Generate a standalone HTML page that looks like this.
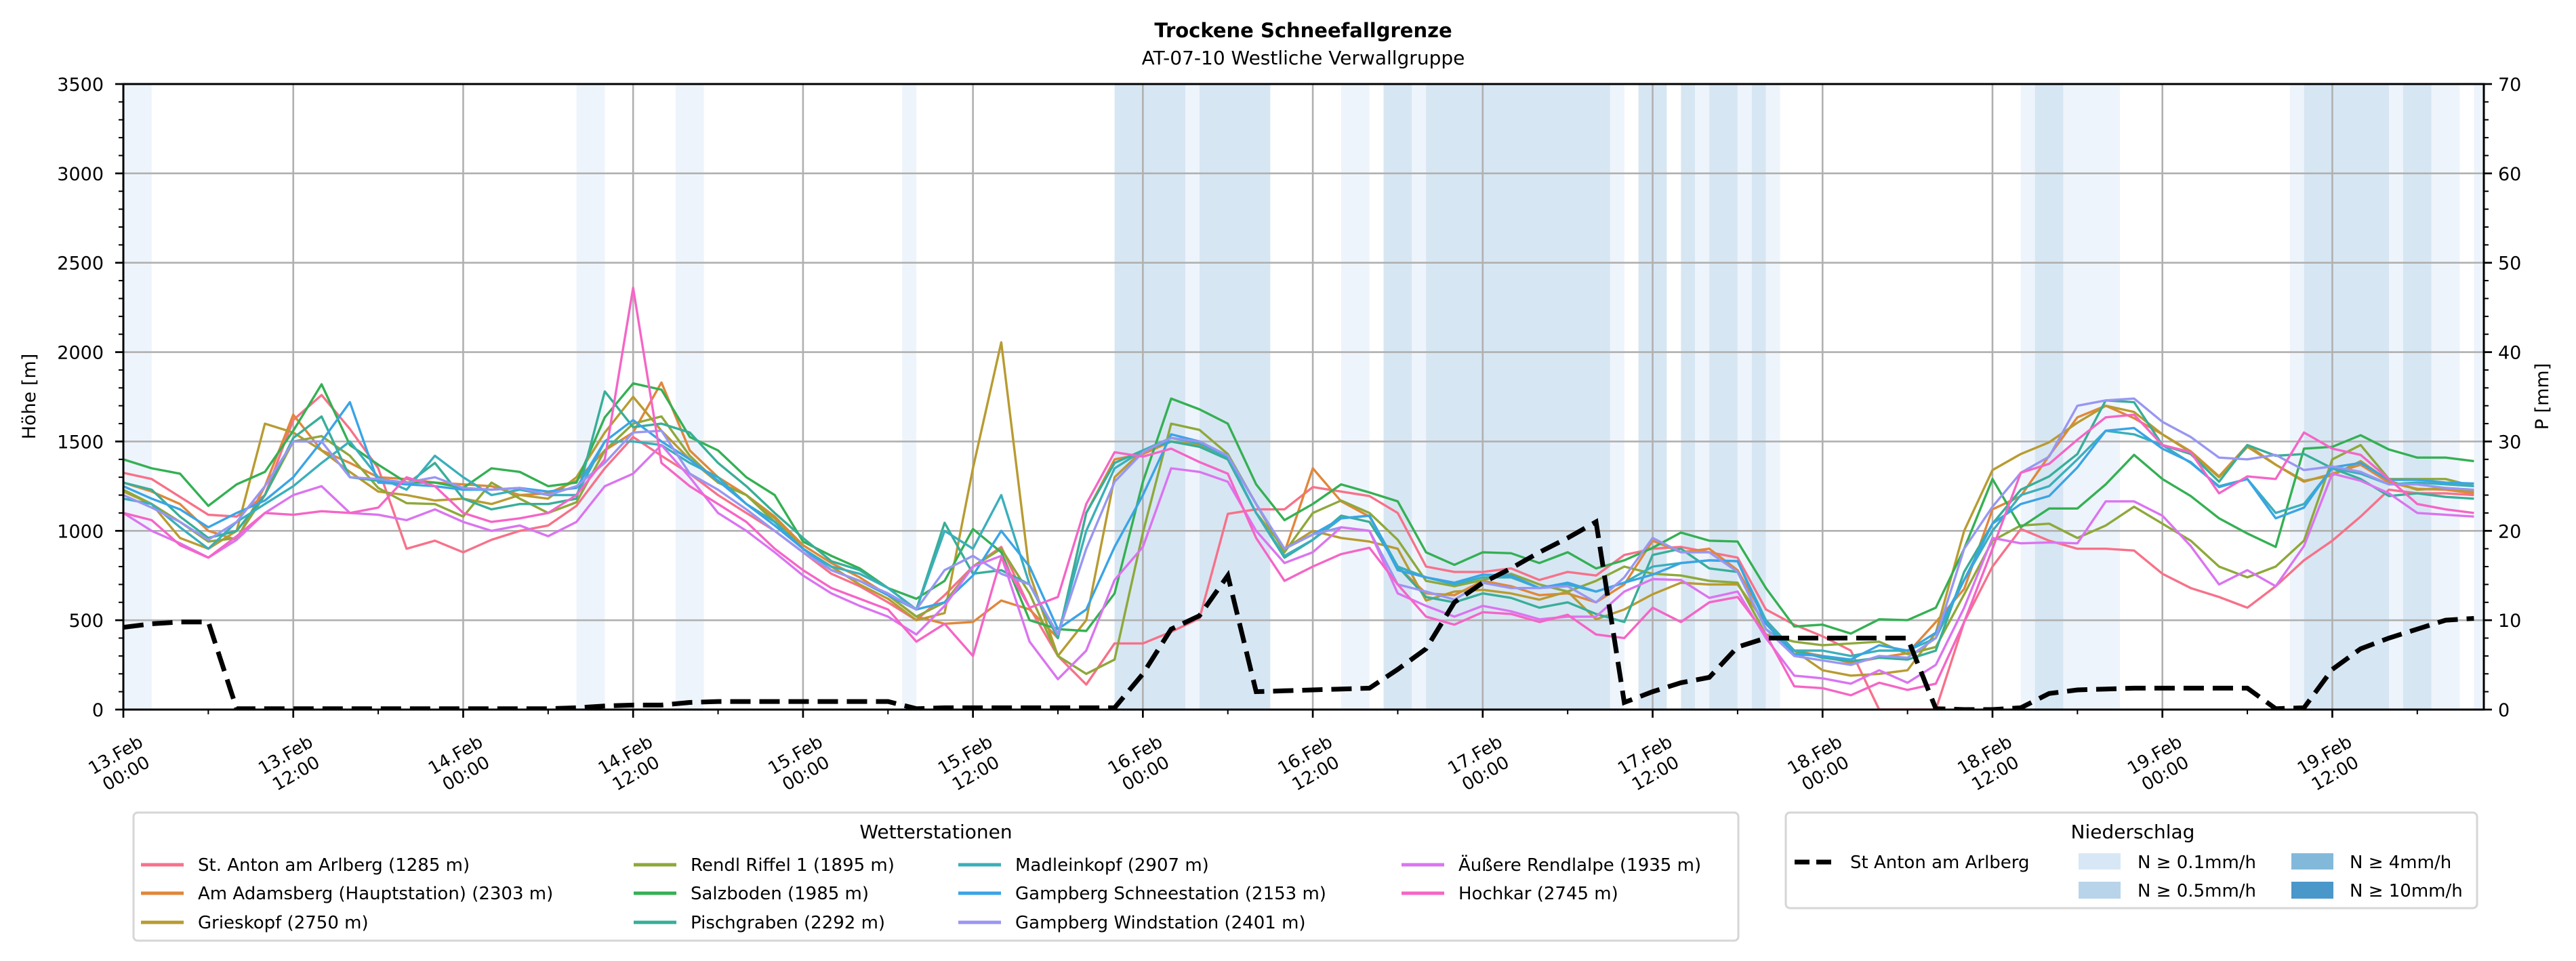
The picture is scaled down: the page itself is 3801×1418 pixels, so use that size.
<!DOCTYPE html>
<html><head><meta charset="utf-8"><style>
html,body{margin:0;padding:0;background:#fff;}
svg{display:block;font-family:"DejaVu Sans","Liberation Sans",sans-serif;}
</style></head><body>
<svg id="chart" width="3801" height="1418" viewBox="0 0 3801 1418" xmlns="http://www.w3.org/2000/svg">
<defs><clipPath id="plotclip"><rect x="182" y="124" width="3483" height="923"/></clipPath></defs>
<rect x="0" y="0" width="3801" height="1418" fill="#fff"/>
<text x="1923" y="55" text-anchor="middle" font-size="29" font-weight="bold">Trockene Schneefallgrenze</text>
<text x="1923" y="95" text-anchor="middle" font-size="28">AT-07-10 Westliche Verwallgruppe</text>
<g id="bands" clip-path="url(#plotclip)"></g>
<g id="grid"></g>
<g id="series" clip-path="url(#plotclip)"></g>
<g id="precip" clip-path="url(#plotclip)"></g>
<g id="axes"></g>
<text transform="translate(52,585) rotate(-90)" text-anchor="middle" font-size="27">Höhe [m]</text>
<text transform="translate(3760,585) rotate(-90)" text-anchor="middle" font-size="27">P [mm]</text>
<g id="legend1">
<rect x="197" y="1199" width="2368" height="189" rx="6" fill="#fff" stroke="#d6d6d6" stroke-width="3"/>
<text x="1381" y="1237" text-anchor="middle" font-size="28">Wetterstationen</text>
</g>
<g id="legend2">
<rect x="2635" y="1199" width="1020" height="141" rx="6" fill="#fff" stroke="#d6d6d6" stroke-width="3"/>
<text x="3147" y="1237" text-anchor="middle" font-size="28">Niederschlag</text>
<line x1="2648" y1="1272" x2="2705" y2="1272" stroke="#000" stroke-width="7" stroke-dasharray="22 10"/>
<text x="2730" y="1281" font-size="26">St Anton am Arlberg</text>
<rect x="3067" y="1259" width="62" height="24" fill="#d8e7f5"/>
<text x="3154" y="1281" font-size="26">N ≥ 0.1mm/h</text>
<rect x="3067" y="1301" width="62" height="25" fill="#b8d4ea"/>
<text x="3154" y="1323" font-size="26">N ≥ 0.5mm/h</text>
<rect x="3381" y="1259" width="62" height="24" fill="#82b9da"/>
<text x="3467" y="1281" font-size="26">N ≥ 4mm/h</text>
<rect x="3381" y="1301" width="62" height="25" fill="#4a97c9"/>
<text x="3467" y="1323" font-size="26">N ≥ 10mm/h</text>
</g>
</svg>
<script>
const hoursStep = 2;
const stationNames = ["St. Anton am Arlberg (1285 m)","Am Adamsberg (Hauptstation) (2303 m)","Grieskopf (2750 m)","Rendl Riffel 1 (1895 m)","Salzboden (1985 m)","Pischgraben (2292 m)","Madleinkopf (2907 m)","Gampberg Schneestation (2153 m)","Gampberg Windstation (2401 m)","Äußere Rendlalpe (1935 m)","Hochkar (2745 m)"];
const stAnton = [1325,1290,1190,1090,1080,1200,1620,1760,1570,1350,900,945,880,950,1000,1030,1140,1350,1525,1420,1320,1200,
1100,1000,880,760,690,600,500,640,800,910,570,300,140,370,370,435,510,1095,1120,1120,1245,
1220,1195,1100,800,770,770,790,725,770,750,865,900,910,880,850,560,475,410,330,0,0,
0,490,800,1010,945,900,900,890,760,680,630,570,690,835,945,1080,1230,1210,1210,1200];
const adamsberg = [1270,1220,1150,1000,950,1250,1650,1450,1380,1300,1290,1270,1260,1250,1200,1210,1280,1450,1550,1830,1450,1300,
1200,1080,920,820,740,640,520,480,490,610,560,400,1100,1400,1430,1500,1480,1420,1150,880,1350,
1165,1080,800,650,640,720,690,640,650,600,700,945,880,900,780,500,330,300,260,290,315,
490,675,1120,1195,1420,1635,1700,1630,1540,1445,1305,1480,1370,1275,1320,1370,1270,1235,1230,1210];
const grieskopf = [1220,1150,960,900,1000,1600,1550,1450,1330,1220,1200,1170,1180,1150,1200,1180,1300,1550,1750,1560,1400,1270,
1200,1070,900,800,700,620,500,540,1350,2055,760,300,500,1300,1450,1500,1480,1400,1100,900,1000,
960,940,900,610,660,670,650,615,660,505,560,645,710,700,700,480,330,220,190,200,220,
430,1000,1340,1430,1495,1605,1700,1665,1540,1440,1300,1470,1370,1280,1310,1390,1280,1230,1240,1220];
const rendl = [1230,1150,1050,940,960,1200,1500,1530,1420,1240,1155,1150,1080,1270,1180,1100,1160,1450,1600,1640,1420,1270,
1200,1050,900,780,720,640,520,600,800,900,650,300,200,280,990,1600,1565,1430,1150,880,1100,
1170,1100,950,720,690,725,760,700,660,720,800,760,750,720,710,420,380,360,370,380,310,
350,645,945,1030,1040,960,1030,1135,1040,945,800,740,800,945,1400,1480,1290,1290,1290,1250];
const salzboden = [1400,1350,1320,1140,1260,1330,1560,1820,1480,1370,1270,1270,1240,1350,1330,1250,1270,1635,1825,1790,1525,1450,
1300,1200,940,860,790,680,620,720,1010,880,500,450,440,650,1275,1740,1680,1600,1260,1060,1150,
1260,1215,1165,880,810,880,875,820,880,790,835,905,990,945,940,680,465,475,425,505,500,
570,900,1290,1020,1125,1125,1260,1425,1290,1195,1070,985,910,1460,1470,1535,1455,1410,1410,1390];
const pischgraben = [1270,1230,1080,960,1000,1200,1520,1640,1300,1280,1260,1380,1180,1120,1150,1150,1180,1780,1580,1600,1550,1380,
1250,1100,960,830,780,680,560,1045,760,780,700,400,1100,1380,1450,1500,1470,1400,1100,850,950,
1085,1050,800,630,600,650,625,570,600,535,490,865,900,790,770,450,330,290,270,290,280,
330,770,1040,1230,1305,1430,1730,1720,1480,1430,1275,1480,1420,1430,1350,1290,1195,1210,1190,1180];
const madleinkopf = [1180,1150,1020,900,1050,1150,1250,1380,1500,1300,1230,1420,1300,1200,1230,1200,1200,1500,1500,1480,1380,1300,
1150,1050,900,800,760,680,560,1000,900,1200,700,420,1000,1350,1450,1520,1490,1410,1100,860,950,
1070,1085,800,740,700,740,740,680,700,660,710,800,820,835,830,500,330,330,300,330,330,
400,725,1000,1200,1250,1400,1560,1540,1480,1380,1250,1290,1100,1150,1350,1320,1260,1270,1260,1250];
const gampSchnee = [1250,1180,1120,1020,1100,1170,1300,1500,1720,1270,1260,1250,1230,1230,1240,1220,1240,1500,1620,1500,1400,1280,
1150,1030,900,780,720,640,560,600,750,1000,800,450,560,910,1200,1540,1500,1420,1150,900,980,
1070,1085,780,740,710,755,750,680,710,660,710,755,820,835,830,480,310,300,280,360,330,
430,725,1040,1150,1195,1355,1560,1575,1460,1385,1245,1290,1070,1130,1355,1380,1285,1285,1270,1265];
const gampWind = [1200,1130,1050,950,1050,1250,1500,1500,1300,1290,1270,1300,1240,1230,1240,1200,1250,1380,1550,1560,1320,1230,
1120,1000,880,780,720,650,560,780,860,760,700,420,900,1275,1440,1520,1500,1420,1150,900,980,
1020,1000,700,660,615,710,680,680,690,600,740,960,880,880,770,450,300,275,250,300,290,
400,900,1135,1325,1415,1700,1730,1740,1610,1525,1410,1400,1425,1340,1360,1330,1260,1260,1240,1230];
const rendlalpe = [1100,1000,930,850,950,1100,1200,1250,1100,1090,1060,1120,1050,1000,1030,970,1050,1250,1320,1480,1300,1100,
1000,880,750,650,580,520,420,580,800,860,380,170,330,725,910,1350,1330,1275,1000,820,880,
1020,1000,650,580,520,580,550,505,520,520,660,730,725,625,660,400,190,175,145,220,150,
250,570,960,930,935,930,1165,1165,1085,915,700,780,690,915,1320,1280,1210,1100,1090,1080];
const hochkar = [1100,1060,920,850,970,1100,1090,1110,1100,1130,1300,1250,1100,1050,1070,1100,1200,1400,2360,1380,1250,1150,
1050,900,780,680,620,560,380,480,300,850,570,630,1150,1440,1415,1460,1385,1320,960,720,800,
870,905,700,520,475,545,535,490,530,420,400,570,490,600,630,420,130,120,80,150,110,
145,490,900,1325,1375,1510,1635,1650,1480,1440,1210,1305,1290,1550,1460,1425,1290,1150,1120,1100];
const precipMM = [9.2,9.6,9.8,9.8,0.1,0.1,0.1,0.1,0.1,0.1,0.1,0.1,0.1,0.1,0.1,0.1,0.2,0.4,0.5,0.5,0.8,0.9,
0.9,0.9,0.9,0.9,0.9,0.9,0.1,0.2,0.2,0.2,0.2,0.2,0.2,0.2,4,9,10.5,15,2,2.1,2.2,
2.3,2.4,4.5,6.8,12,14.2,15.8,17.6,19.2,21,0.8,2,3,3.6,7,8,8,8,8,8,8,
0.1,0,0,0.2,1.8,2.2,2.3,2.4,2.4,2.4,2.4,2.4,0.1,0.2,4.5,6.8,8,9,10,10.2];
const bandStart = [0,32,39,55,70,75,76,86,89,91,92,105,107,110,111,112,114,115,116,134,135,137,153,154,160,161,163,166];
const bandEnd   = [2,34,41,56,75,76,81,88,91,92,105,106,109,111,112,114,115,116,117,135,137,141,154,160,161,163,165,167];
const bandLevel = [1,1,1,1,2,1,2,1,2,1,2,1,2,2,1,2,1,2,1,1,2,1,1,2,1,2,1,1];
const xTickHours = [0,12,24,36,48,60,72,84,96,108,120,132,144,156];
const xTickDays = ["13.Feb","13.Feb","14.Feb","14.Feb","15.Feb","15.Feb","16.Feb","16.Feb","17.Feb","17.Feb","18.Feb","18.Feb","19.Feb","19.Feb"];
const xTickTimes = ["00:00","12:00","00:00","12:00","00:00","12:00","00:00","12:00","00:00","12:00","00:00","12:00","00:00","12:00"];
const yTicks = [0,500,1000,1500,2000,2500,3000,3500];
const y2Ticks = [0,10,20,30,40,50,60,70];

const NS = "http://www.w3.org/2000/svg";
const PL = 182, PR = 3665, PT = 124, PB = 1047, XMAX = 166.7;
const xS = h => PL + h * (PR - PL) / XMAX;
const yS = v => PB - v * (PB - PT) / 3500;
const y2S = p => PB - p * (PB - PT) / 70;
function mk(tag, attrs, parent) {
  const e = document.createElementNS(NS, tag);
  for (const k in attrs) e.setAttribute(k, attrs[k]);
  parent.appendChild(e);
  return e;
}
const gB = document.getElementById('bands');
for (let i = 0; i < bandStart.length; i++) {
  const r = mk('rect', {x: xS(bandStart[i]), y: PT, width: xS(bandEnd[i]) - xS(bandStart[i]), height: PB - PT, fill: bandLevel[i] === 2 ? '#d7e6f3' : '#eef4fb'}, gB);
  
  
}
const gG = document.getElementById('grid');
yTicks.forEach(v => {
  const l = mk('line', {x1: PL, x2: PR, y1: yS(v), y2: yS(v), stroke: '#b0b0b0', 'stroke-width': 2.6}, gG);
  
  
});
xTickHours.forEach(h => {
  const l = mk('line', {x1: xS(h), x2: xS(h), y1: PT, y2: PB, stroke: '#b0b0b0', 'stroke-width': 2.6}, gG);
  
  
});
const series = [stAnton, adamsberg, grieskopf, rendl, salzboden, pischgraben, madleinkopf, gampSchnee, gampWind, rendlalpe, hochkar];
const colors = ['#f77189','#e0873a','#b89b31','#8ea83a','#34b053','#38ae98','#3aafbb','#3aa4e6','#9896f2','#da74f0','#f565c6'];
const keys = ['st-anton','adamsberg','grieskopf','rendl-riffel','salzboden','pischgraben','madleinkopf','gampberg-schneestation','gampberg-windstation','aeussere-rendlalpe','hochkar'];
const gS = document.getElementById('series');
series.forEach((arr, si) => {
  const d = arr.map((v, i) => (i ? 'L' : 'M') + xS(i * hoursStep).toFixed(1) + ',' + yS(v).toFixed(1)).join('');
  const p = mk('path', {d: d, fill: 'none', stroke: colors[si], 'stroke-width': 3.4, 'stroke-linejoin': 'round'}, gS);
  
  
});
const gP = document.getElementById('precip');
const pd = precipMM.map((v, i) => (i ? 'L' : 'M') + xS(i * hoursStep).toFixed(1) + ',' + y2S(v).toFixed(1)).join('');
const pp = mk('path', {d: pd, fill: 'none', stroke: '#000', 'stroke-width': 7, 'stroke-dasharray': '30 13'}, gP);



const gA = document.getElementById('axes');
const frame = mk('rect', {x: PL, y: PT, width: PR - PL, height: PB - PT, fill: 'none', stroke: '#000', 'stroke-width': 3}, gA);


for (let v = 0; v <= 3500; v += 100) {
  const major = v % 500 === 0;
  const t = mk('line', {x1: PL, x2: PL - (major ? 12 : 7), y1: yS(v), y2: yS(v), stroke: '#000', 'stroke-width': major ? 2.7 : 2}, gA);
  
  
}
yTicks.forEach(v => {
  const t = mk('text', {x: 153, y: yS(v) + 10, 'text-anchor': 'end', 'font-size': 27}, gA);
  t.textContent = v;
  
  
});
for (let p = 0; p <= 70; p += 2) {
  const major = p % 10 === 0;
  const t = mk('line', {x1: PR, x2: PR + (major ? 12 : 7), y1: y2S(p), y2: y2S(p), stroke: '#000', 'stroke-width': major ? 2.7 : 2}, gA);
  
  
}
y2Ticks.forEach(p => {
  const t = mk('text', {x: 3686, y: y2S(p) + 10, 'text-anchor': 'start', 'font-size': 27}, gA);
  t.textContent = p;
  
  
});
for (let h = 0; h <= 166; h += 6) {
  const major = h % 12 === 0;
  const t = mk('line', {x1: xS(h), x2: xS(h), y1: PB, y2: PB + (major ? 12 : 7), stroke: '#000', 'stroke-width': major ? 2.7 : 2}, gA);
  
  
}
xTickHours.forEach((h, i) => {
  const cx = xS(h) - 4, cy = 1127;
  const t = mk('text', {transform: 'translate(' + cx + ',' + cy + ') rotate(-30)', 'text-anchor': 'middle', 'font-size': 26}, gA);
  
  
  const a = mk('tspan', {x: 0, y: -6}, t); a.textContent = xTickDays[i];
  const b = mk('tspan', {x: 0, y: 25}, t); b.textContent = xTickTimes[i];
});

const gL = document.getElementById('legend1');
const colX = [208, 935, 1414, 2068];
const rowY = [1276, 1318, 1361];
stationNames.forEach((name, i) => {
  const c = Math.floor(i / 3), r = i % 3;
  const l = mk('line', {x1: colX[c], x2: colX[c] + 63, y1: rowY[r], y2: rowY[r], stroke: colors[i], 'stroke-width': 5}, gL);
  
  
  const t = mk('text', {x: colX[c] + 84, y: rowY[r] + 9, 'font-size': 26}, gL);
  t.textContent = name;
  
  
});
</script>
</body></html>
